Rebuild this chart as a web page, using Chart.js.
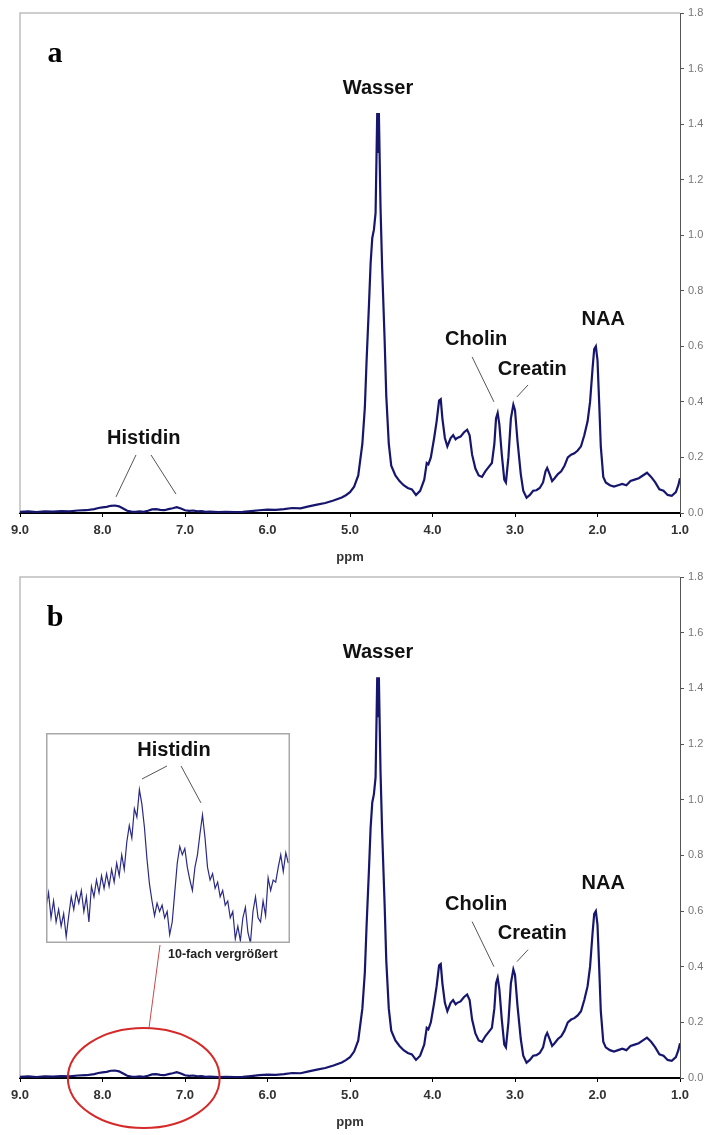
<!DOCTYPE html>
<html>
<head>
<meta charset="utf-8">
<script src="https://cdn.jsdelivr.net/npm/chart.js@4.4.0/dist/chart.umd.min.js"></script>
<style>
  body { margin: 0; background: #fff; }
  #wrap { position: relative; width: 706px; height: 1135px; }
  canvas { position: absolute; left: 0; }
  #chartA { top: 0; }
  #chartB { top: 565px; }
  #inset { left: 46px; top: 733px; z-index: 2; }
</style>
</head>
<body>
<div id="wrap">
  <canvas id="chartA" width="706" height="565"></canvas>
  <canvas id="chartB" width="706" height="570"></canvas>
  <canvas id="inset" width="244" height="210"></canvas>
</div>
<script>
// spectrum (ppm / signal)
var ppm = [
  9.00, 8.90, 8.80, 8.70, 8.60, 8.50, 8.40, 8.30, 8.20, 8.10, 8.05, 8.00, 7.95, 7.90, 7.85, 7.80,
  7.75, 7.70, 7.65, 7.60, 7.55, 7.50, 7.45, 7.40, 7.35, 7.30, 7.25, 7.20, 7.15, 7.10, 7.05, 7.00,
  6.95, 6.90, 6.85, 6.80, 6.75, 6.70, 6.60, 6.50, 6.40, 6.30, 6.20, 6.10, 6.00, 5.90, 5.80, 5.70,
  5.60, 5.50, 5.40, 5.30, 5.20, 5.10, 5.05, 5.00, 4.95, 4.90, 4.85, 4.82, 4.80, 4.77, 4.75, 4.73,
  4.71, 4.69, 4.67, 4.66, 4.65, 4.63, 4.61, 4.58, 4.56, 4.53, 4.50, 4.45, 4.40, 4.35, 4.30, 4.25,
  4.20, 4.15, 4.10, 4.07, 4.05, 4.02, 3.98, 3.95, 3.92, 3.90, 3.88, 3.85, 3.82, 3.78, 3.75, 3.72,
  3.70, 3.66, 3.62, 3.58, 3.55, 3.52, 3.48, 3.44, 3.40, 3.36, 3.32, 3.28, 3.25, 3.23, 3.21, 3.19,
  3.16, 3.13, 3.11, 3.08, 3.05, 3.02, 3.00, 2.97, 2.93, 2.90, 2.86, 2.82, 2.78, 2.74, 2.70, 2.66,
  2.63, 2.61, 2.58, 2.55, 2.52, 2.48, 2.44, 2.40, 2.36, 2.32, 2.28, 2.24, 2.20, 2.16, 2.12, 2.09,
  2.06, 2.04, 2.02, 2.00, 1.98, 1.96, 1.93, 1.90, 1.85, 1.80, 1.75, 1.70, 1.65, 1.60, 1.55, 1.50,
  1.45, 1.40, 1.35, 1.30, 1.25, 1.20, 1.15, 1.10, 1.05, 1.02, 1.00
];
var signal = [
  0.004, 0.006, 0.003, 0.006, 0.005, 0.007, 0.006, 0.009, 0.010, 0.014, 0.018, 0.020, 0.022, 0.026, 0.027, 0.024,
  0.016, 0.008, 0.005, 0.004, 0.006, 0.004, 0.008, 0.013, 0.014, 0.011, 0.010, 0.014, 0.017, 0.021, 0.016, 0.010,
  0.008, 0.009, 0.006, 0.007, 0.004, 0.005, 0.003, 0.004, 0.003, 0.004, 0.007, 0.010, 0.012, 0.011, 0.014, 0.018,
  0.017, 0.024, 0.030, 0.036, 0.045, 0.056, 0.064, 0.075, 0.095, 0.135, 0.25, 0.38, 0.54, 0.75, 0.90, 0.99,
  1.02, 1.08, 1.44, 1.30, 1.44, 1.10, 0.88, 0.62, 0.42, 0.25, 0.17, 0.135, 0.115, 0.10, 0.09, 0.085,
  0.065, 0.08, 0.12, 0.18, 0.175, 0.20, 0.27, 0.33, 0.405, 0.41, 0.34, 0.27, 0.24, 0.27, 0.28, 0.265,
  0.27, 0.275, 0.29, 0.30, 0.28, 0.21, 0.16, 0.135, 0.13, 0.15, 0.165, 0.18, 0.25, 0.34, 0.36, 0.32,
  0.21, 0.12, 0.11, 0.20, 0.34, 0.39, 0.37, 0.26, 0.14, 0.08, 0.055, 0.065, 0.080, 0.082, 0.09, 0.11,
  0.15, 0.162, 0.14, 0.115, 0.125, 0.14, 0.15, 0.17, 0.20, 0.21, 0.215, 0.225, 0.24, 0.28, 0.33, 0.40,
  0.52, 0.59, 0.60, 0.55, 0.40, 0.24, 0.13, 0.11, 0.10, 0.095, 0.10, 0.105, 0.10, 0.115, 0.12, 0.125,
  0.135, 0.145, 0.13, 0.11, 0.085, 0.08, 0.065, 0.062, 0.075, 0.10, 0.125
];

// 10x magnified histidine region (relative units 0..1)
var insetPpm = [
  9.00, 8.97, 8.94, 8.91, 8.88, 8.85, 8.82, 8.79, 8.76, 8.73, 8.70, 8.67, 8.64, 8.61, 8.58, 8.55,
  8.52, 8.49, 8.46, 8.43, 8.40, 8.37, 8.34, 8.31, 8.28, 8.25, 8.22, 8.19, 8.16, 8.13, 8.10, 8.07,
  8.04, 8.01, 7.98, 7.95, 7.92, 7.89, 7.86, 7.83, 7.80, 7.77, 7.74, 7.71, 7.68, 7.65, 7.62, 7.59,
  7.56, 7.53, 7.50, 7.47, 7.44, 7.41, 7.38, 7.35, 7.32, 7.29, 7.26, 7.23, 7.20, 7.17, 7.14, 7.11,
  7.08, 7.05, 7.02, 6.99, 6.96, 6.93, 6.90, 6.87, 6.84, 6.81, 6.78, 6.75, 6.72, 6.69, 6.66, 6.63,
  6.60, 6.57, 6.54, 6.51, 6.48, 6.45, 6.42, 6.39, 6.36, 6.33, 6.30, 6.27, 6.24, 6.21, 6.18, 6.15,
  6.12
];
var insetSignal = [
  0.17, 0.24, 0.12, 0.20, 0.10, 0.16, 0.08, 0.14, 0.03, 0.13, 0.22, 0.16, 0.24, 0.19, 0.25, 0.15,
  0.22, 0.10, 0.27, 0.22, 0.30, 0.24, 0.32, 0.26, 0.33, 0.27, 0.35, 0.29, 0.38, 0.32, 0.42, 0.35,
  0.48, 0.56, 0.50, 0.64, 0.60, 0.73, 0.66, 0.55, 0.40, 0.28, 0.20, 0.13, 0.19, 0.15, 0.18, 0.12,
  0.15, 0.04, 0.10, 0.24, 0.38, 0.46, 0.42, 0.45, 0.36, 0.30, 0.25, 0.36, 0.42, 0.52, 0.61, 0.50,
  0.36, 0.30, 0.33, 0.26, 0.29, 0.22, 0.25, 0.18, 0.20, 0.12, 0.15, 0.02, 0.08, 0.01, 0.12, 0.17,
  0.05, 0.00, 0.15, 0.22, 0.12, 0.10, 0.20, 0.13, 0.31, 0.25, 0.30, 0.29, 0.36, 0.42, 0.34, 0.43,
  0.38
];

var lineColor = "#16166e"
var labelFont = "bold 20px 'Liberation Sans', Arial, sans-serif"
Chart.defaults.font.family = "'Liberation Sans', Arial, sans-serif"

function points(xs, ys) {
  return xs.map(function (v, i) { return {x: v, y: ys[i]}; });
}

// labels and leader lines, positioned in data units (ppm, signal)
var peakLabels = [
  {text: "Wasser", at: [4.66, 1.53]},
  {text: "Cholin", at: [3.47, 0.623]},
  {text: "Creatin", at: [2.79, 0.518]},
  {text: "NAA", at: [1.93, 0.698]}
]
var peakLines = [
  [3.52, 0.562, 3.255, 0.400],
  [2.842, 0.461, 2.976, 0.418]
]
var histidinLabel = {text: "Histidin", at: [7.50, 0.270]}
var histidinLines = [
  [7.594, 0.209, 7.836, 0.058],
  [7.412, 0.209, 7.109, 0.068]
]

function drawText(chart, t, font, color, align) {
  var ctx = chart.ctx, x = chart.scales.x, y = chart.scales.y;
  ctx.font = font;
  ctx.fillStyle = color || "#111";
  ctx.textAlign = align || "center";
  ctx.textBaseline = "middle";
  ctx.fillText(t.text, x.getPixelForValue(t.at[0]), y.getPixelForValue(t.at[1]));
}

function drawSegs(chart, segs, color, width) {
  var ctx = chart.ctx, x = chart.scales.x, y = chart.scales.y;
  ctx.strokeStyle = color;
  ctx.lineWidth = width;
  segs.forEach(function (s) {
    ctx.beginPath();
    ctx.moveTo(x.getPixelForValue(s[0]), y.getPixelForValue(s[1]));
    ctx.lineTo(x.getPixelForValue(s[2]), y.getPixelForValue(s[3]));
    ctx.stroke();
  });
}

var frame = {
  id: "frame",
  beforeDatasetsDraw: function (chart) {
    var a = chart.chartArea, ctx = chart.ctx;
    ctx.save();
    ctx.strokeStyle = "#bdbdbd";
    ctx.lineWidth = 1.5;
    ctx.beginPath();
    ctx.moveTo(a.left, a.bottom);
    ctx.lineTo(a.left, a.top);
    ctx.lineTo(a.right, a.top);
    ctx.stroke();
    ctx.restore();
  }
}

function spectrumChart(el, topPad, axisHeight, titleBottom, panel, extra) {
  return new Chart(el, {
    type: "line",
    data: {
      datasets: [{
        data: points(ppm, signal),
        borderColor: lineColor,
        borderWidth: 2.2,
        pointRadius: 0,
        tension: 0,
        fill: false
      }]
    },
    options: {
      responsive: false,
      animation: false,
      devicePixelRatio: 1,
      layout: {padding: {top: topPad, left: 20, right: 0, bottom: 0}},
      plugins: {legend: {display: false}, tooltip: {enabled: false}},
      scales: {
        x: {
          type: "linear",
          reverse: true,
          min: 1,
          max: 9,
          afterFit: function (s) { s.height = axisHeight; },
          border: {display: true, color: "#000", width: 2},
          grid: {drawOnChartArea: false, color: "#000", tickLength: 4},
          ticks: {
            stepSize: 1,
            color: "#333",
            padding: 6,
            font: {size: 13, weight: "bold"},
            callback: function (v) { return v.toFixed(1); }
          },
          title: {
            display: true,
            text: "ppm",
            color: "#333",
            font: {size: 13, weight: "bold"},
            padding: {top: 0, bottom: titleBottom}
          }
        },
        y: {
          position: "right",
          min: 0,
          max: 1.8,
          afterFit: function (s) { s.width = 26; },
          border: {display: true, color: "#555", width: 1},
          grid: {drawOnChartArea: false, color: "#555", tickLength: 4},
          ticks: {
            stepSize: 0.2,
            color: "#777",
            padding: 4,
            font: {size: 11},
            callback: function (v) { return v.toFixed(1); }
          }
        }
      }
    },
    plugins: [frame, {
      id: "notes",
      afterDraw: function (chart) {
        var ctx = chart.ctx;
        ctx.save();
        drawText(chart, {text: panel, at: [8.576, 1.652]}, "bold 30px 'Liberation Serif', 'Times New Roman', serif", "#000");
        peakLabels.forEach(function (t) { drawText(chart, t, labelFont); });
        drawSegs(chart, peakLines, "#555", 1);
        if (extra) extra(chart);
        ctx.restore();
      }
    }]
  });
}

spectrumChart(document.getElementById("chartA"), 13, 52, 0, "a", function (chart) {
  drawText(chart, histidinLabel, labelFont);
  drawSegs(chart, histidinLines, "#555", 1);
});

spectrumChart(document.getElementById("chartB"), 12, 57, 5, "b", function (chart) {
  var ctx = chart.ctx, x = chart.scales.x, y = chart.scales.y;
  // red ellipse round the histidine region + pointer to the inset
  var cx = x.getPixelForValue(7.50), cy = y.getPixelForValue(0);
  var rx = Math.abs(x.getPixelForValue(7.50 - 0.92) - cx);
  var ry = Math.abs(y.getPixelForValue(0.18) - cy);
  ctx.strokeStyle = "#d42a2a";
  ctx.lineWidth = 2;
  ctx.beginPath();
  ctx.ellipse(cx, cy, rx, ry, 0, 0, Math.PI * 2);
  ctx.stroke();
  drawSegs(chart, [[7.303, 0.478, 7.436, 0.180]], "#c84a4a", 1);
  drawText(chart, {text: "10-fach vergrößert", at: [7.206, 0.442]}, "bold 12.5px 'Liberation Sans', Arial, sans-serif", "#222", "left");
});

// inset: 10-fach vergrößert
new Chart(document.getElementById("inset"), {
  type: "line",
  data: {
    datasets: [{
      data: points(insetPpm, insetSignal),
      borderColor: "#2a2a86",
      borderWidth: 1.2,
      pointRadius: 0,
      tension: 0,
      fill: false
    }]
  },
  options: {
    responsive: false,
    animation: false,
    devicePixelRatio: 1,
    layout: {padding: 0},
    plugins: {legend: {display: false}, tooltip: {enabled: false}},
    scales: {
      x: {type: "linear", reverse: true, min: 6.1, max: 9.0, display: false},
      y: {min: 0, max: 1, display: false}
    }
  },
  plugins: [{
    id: "box",
    beforeDraw: function (chart) {
      var ctx = chart.ctx;
      ctx.save();
      ctx.fillStyle = "#fff";
      ctx.fillRect(0, 0, chart.width, chart.height);
      ctx.restore();
    },
    afterDraw: function (chart) {
      var ctx = chart.ctx;
      ctx.save();
      ctx.strokeStyle = "#a8a8a8";
      ctx.lineWidth = 1.5;
      ctx.strokeRect(0.75, 0.75, chart.width - 1.5, chart.height - 1.5);
      drawText(chart, {text: "Histidin", at: [7.479, 0.919]}, labelFont);
      drawSegs(chart, [[7.562, 0.843, 7.859, 0.781], [7.395, 0.843, 7.158, 0.667]], "#555", 1);
      ctx.restore();
    }
  }]
});
</script>
</body>
</html>
